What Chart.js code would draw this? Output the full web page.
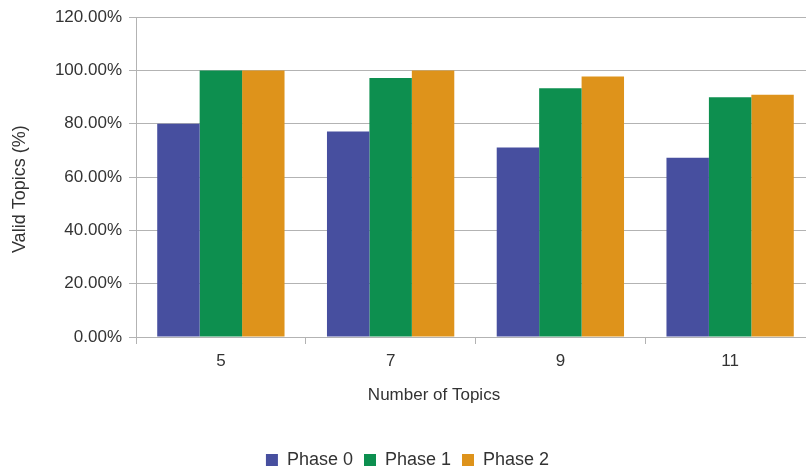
<!DOCTYPE html>
<html>
<head>
<meta charset="utf-8">
<script src="https://cdn.jsdelivr.net/npm/chart.js@4/dist/chart.umd.min.js"></script>
<style>
  html, body { margin: 0; padding: 0; background: #ffffff; }
  #wrap { width: 806px; height: 470px; overflow: hidden; position: relative; }
  canvas { display: block; }
</style>
</head>
<body>
<div id="wrap"><canvas id="chart" width="815" height="479"></canvas></div>
<script>
// Number of topics per run (x categories)
const topicCounts = ['5', '7', '9', '11'];

// Share of valid topics (%) for each phase
const phase0 = [80.00, 77.14, 71.11, 67.27];
const phase1 = [100.00, 97.14, 93.33, 90.00];
const phase2 = [100.00, 100.00, 97.78, 90.91];

const seriesNames = ['Phase 0', 'Phase 1', 'Phase 2'];
const seriesColors = ['#474f9f', '#0d8f4f', '#de931b'];

// Y axis range and tick step (%)
const yMin = 0;
const yMax = 120;
const yStep = 20;

const xTitle = 'Number of Topics';
const yTitle = 'Valid Topics (%)';

const TEXT = '#333333';
const GRID = '#b3b3b3';
const FONT = '"Liberation Sans", Arial, sans-serif';

// Axis titles drawn beside the plot area
const axisTitles = {
  id: 'axisTitles',
  afterDraw(chart) {
    const { ctx, chartArea } = chart;
    ctx.save();
    ctx.fillStyle = TEXT;
    ctx.textAlign = 'center';
    ctx.textBaseline = 'middle';
    ctx.font = '17px ' + FONT;
    ctx.fillText(xTitle, chartArea.left + 298, chartArea.bottom + 58);
    ctx.translate(20, chartArea.top + 172);
    ctx.rotate(-Math.PI / 2);
    ctx.font = '18px ' + FONT;
    ctx.fillText(yTitle, 0, 0);
    ctx.restore();
  }
};

const datasets = [phase0, phase1, phase2].map((values, i) => ({
  label: seriesNames[i],
  data: values,
  backgroundColor: seriesColors[i],
  borderWidth: 0,
  categoryPercentage: 0.75,
  barPercentage: 1.0
}));

new Chart(document.getElementById('chart'), {
  type: 'bar',
  data: { labels: topicCounts, datasets },
  plugins: [axisTitles],
  options: {
    responsive: false,
    animation: false,
    devicePixelRatio: 1,
    layout: { padding: { top: 14, left: 0, right: 0, bottom: 0 } },
    plugins: {
      tooltip: { enabled: false },
      legend: {
        position: 'bottom',
        labels: {
          color: TEXT,
          font: { family: FONT, size: 18 },
          boxWidth: 12,
          boxHeight: 12,
          padding: 11
        }
      }
    },
    scales: {
      x: {
        offset: true,
        grid: {
          offset: true,
          drawOnChartArea: false,
          drawTicks: true,
          tickLength: 7,
          color: GRID
        },
        border: { color: GRID, width: 1 },
        ticks: { color: TEXT, font: { family: FONT, size: 17 }, padding: 7 },
        afterFit(scale) { scale.height = 103; }
      },
      y: {
        min: yMin,
        max: yMax,
        grid: { color: GRID, tickLength: 7 },
        border: { color: GRID, width: 1 },
        ticks: {
          stepSize: yStep,
          color: TEXT,
          font: { family: FONT, size: 17 },
          padding: 7,
          callback: v => v.toFixed(2) + '%'
        },
        afterFit(scale) { scale.width = 136; }
      }
    }
  }
});
</script>
</body>
</html>
